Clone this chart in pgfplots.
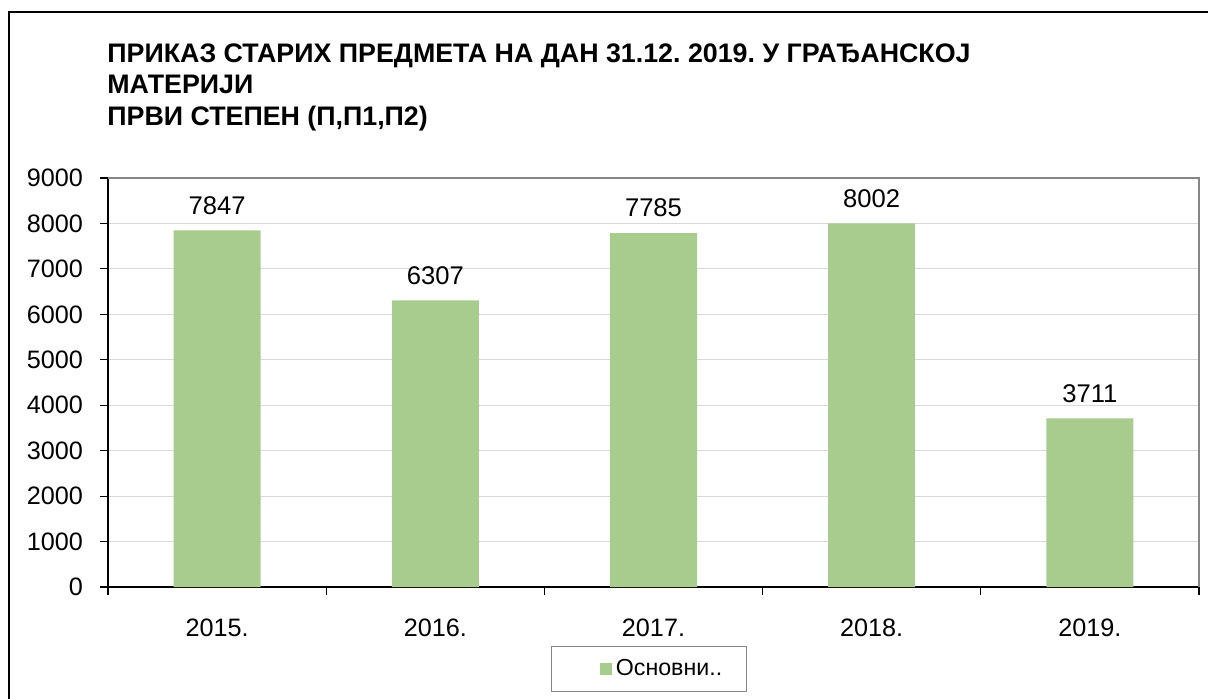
\documentclass[border=0pt]{standalone}
\usepackage{fontspec}
\setmainfont{Liberation Sans}
\usepackage{pgfplots}
\pgfplotsset{compat=1.18}

\definecolor{barGreen}{RGB}{168,204,142}
\definecolor{gridGray}{RGB}{217,217,217}
\definecolor{frameGray}{RGB}{134,134,134}

\begin{document}
\frenchspacing
\begin{tikzpicture}[x=1pt,y=1pt]
\useasboundingbox (0,0) rectangle (604,349);
% outer chart frame (only left and top edges visible)
\draw[line width=1.2pt,black] (4.5,-5) -- (4.5,343) -- (610,343);

% title
\node[anchor=base west,font=\bfseries\fontsize{13.4}{15}\selectfont,inner sep=0] at (53.5,317.5)
  {ПРИКАЗ СТАРИХ ПРЕДМЕТА НА ДАН 31.12. 2019. У ГРАЂАНСКОЈ};
\node[anchor=base west,font=\bfseries\fontsize{13.4}{15}\selectfont,inner sep=0] at (53.5,302)
  {МАТЕРИЈИ};
\node[anchor=base west,font=\bfseries\fontsize{13.4}{15}\selectfont,inner sep=0] at (53.5,286.5)
  {ПРВИ СТЕПЕН (П,П1,П2)};

\begin{axis}[
    at={(54pt,55.5pt)}, anchor=south west,
    scale only axis,
    width=545.5pt, height=204.5pt,
    ybar, bar width=43.5pt,
    xmin=-0.5, xmax=4.5,
    ymin=0, ymax=9000,
    xtick={0,1,2,3,4},
    xticklabels={2015.,2016.,2017.,2018.,2019.},
    minor xtick={-0.5,0.5,1.5,2.5,3.5,4.5},
    ytick={0,1000,...,9000},
    major x tick style={draw=none},
    tick align=outside,
    major tick length=4pt, minor tick length=4pt,
    tick style={black, line width=0.6pt},
    ymajorgrids=true,
    grid style={gridGray, line width=0.6pt},
    axis x line*=bottom, axis y line*=left,
    axis line style={black, line width=0.8pt, -},
    tick label style={font=\fontsize{12.6}{14}\selectfont},
    xticklabel style={yshift=-8.5pt},
    yticklabel style={xshift=-5pt},
    /pgf/number format/assume math mode=true,
    /pgf/number format/1000 sep={},
    nodes near coords,
    every node near coord/.append style={font=\fontsize{12.8}{14}\selectfont, yshift=4.5pt},
    legend style={at={(0.4959,-0.2005)}, anchor=center, draw=frameGray, line width=0.6pt,
      font=\fontsize{11.6}{13}\selectfont, inner xsep=10pt, inner ysep=4.5pt},
    legend image code/.code={\path (0pt,0pt); \fill[barGreen] (14pt,-3pt) rectangle (20pt,3pt);},
    clip=false,
]
\addplot[fill=barGreen, draw=none] coordinates {
  (0,7847) (1,6307) (2,7785) (3,8002) (4,3711)};
\legend{Основни..}
\draw[frameGray, line width=1.1pt] (rel axis cs:0,1) -- (rel axis cs:1,1) -- (rel axis cs:1,0);
\end{axis}
\end{tikzpicture}
\end{document}
